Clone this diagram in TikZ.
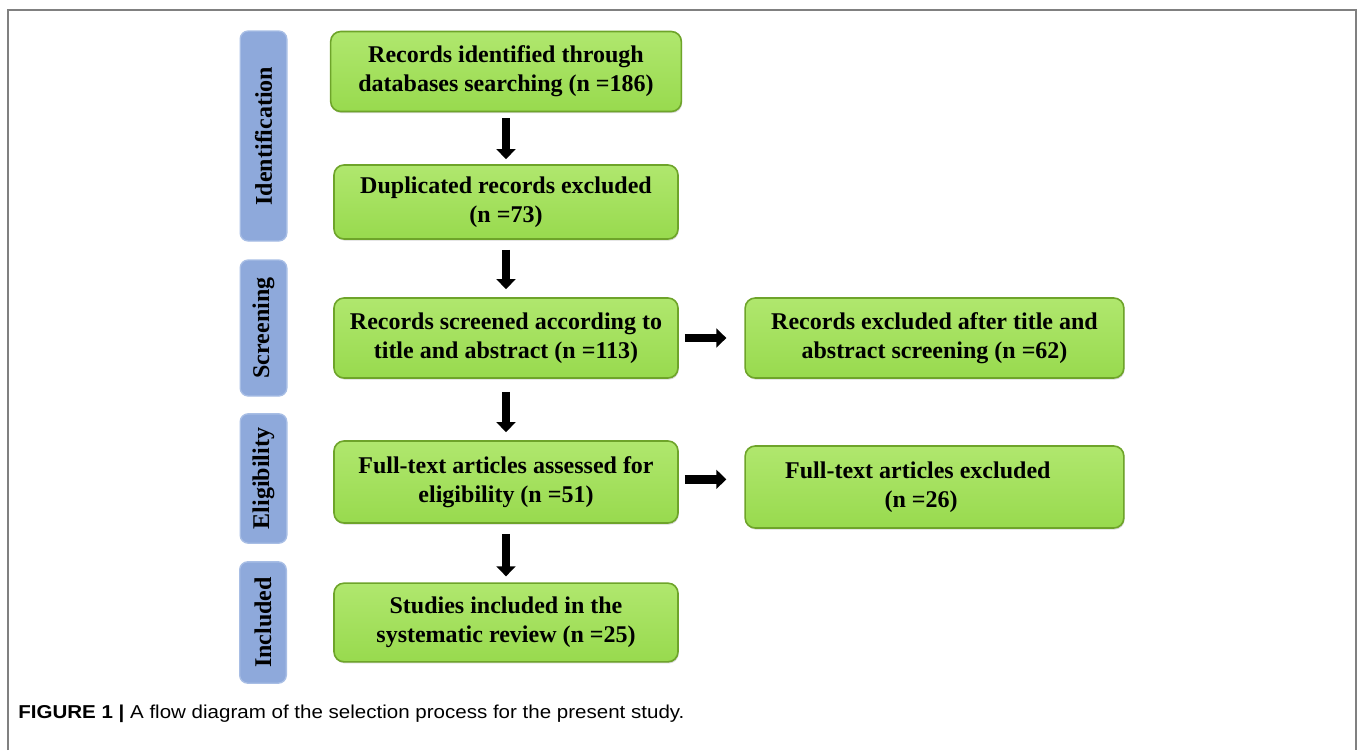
\documentclass[tikz,border=0pt]{standalone}
\usepackage{fontspec}
\setmainfont{Liberation Serif}
\newfontfamily\capfont{Liberation Sans}
\usepackage{tikz}
\usetikzlibrary{arrows.meta,shadows}
\definecolor{boxgreen}{RGB}{152,218,78}
\definecolor{boxgreenlight}{RGB}{176,231,110}
\definecolor{boxrim}{RGB}{110,164,42}
\definecolor{stageblue}{RGB}{142,169,219}
\definecolor{stagerim}{RGB}{168,190,229}
\definecolor{framegray}{RGB}{128,128,128}

\begin{document}
\begin{tikzpicture}[x=0.75pt, y=-0.75pt,
            box/.style={shape=rectangle, rounded corners=7.5pt, draw=boxrim, line width=1.2pt, top color=boxgreenlight, bottom color=boxgreen, align=center, inner sep=2pt, minimum height=60pt, font=\fontsize{18}{22}\selectfont\bfseries, drop shadow={shadow xshift=0.6pt, shadow yshift=-1.2pt, opacity=0.3}},
            stage/.style={shape=rectangle, rounded corners=6pt, draw=stagerim, line width=1pt, fill=stageblue, rotate=90, minimum height=35pt, inner sep=0pt, font=\fontsize{18}{22}\selectfont\bfseries},
            arr/.style={line width=6.5pt, -{Triangle[width=14pt,length=7.5pt]}}]
        \useasboundingbox (0,0) rectangle (1357,750);
        \draw[framegray, line width=1.5pt] (8,750) -- (8,10) -- (1356,10) -- (1356,750);

        \node[stage, minimum width=157.5pt] (ident) at (263.5,136) {Identification};
        \node[stage, minimum width=102pt] (screen) at (263.5,328) {Screening};
        \node[stage, minimum width=97pt] (elig) at (263.5,478.5) {Eligibility};
        \node[stage, minimum width=91pt] (incl) at (263,622.5) {Included};

        \node[box, minimum width=263pt] (records) at (506,71.5) {Records identified through\\databases searching (n =186)};
        \node[box, minimum width=258pt, minimum height=55.5pt] (dupl) at (506,202) {Duplicated records excluded\\(n =73)};
        \node[box, minimum width=258pt] (screened) at (506,338) {Records screened according to\\title and abstract (n =113)};
        \node[box, minimum width=258pt, minimum height=61.5pt] (fulltext) at (506,482) {Full-text articles assessed for\\eligibility (n =51)};
        \node[box, minimum width=258pt, minimum height=59pt] (included) at (506,622.5) {Studies included in the\\systematic review (n =25)};
        \node[box, minimum width=284pt] (screenout) at (934.5,338) {Records excluded after title and\\abstract screening (n =62)};
        \node[box, minimum width=284pt, minimum height=61.5pt] (fullout) at (934.5,487) {Full-text articles excluded\hspace*{25pt}\\(n =26)\hspace*{20pt}};

        \draw[arr, shorten <=4.5pt, shorten >=3.75pt] (records) -- (dupl);
        \draw[arr, shorten <=7.5pt, shorten >=6pt] (dupl) -- (screened);
        \draw[arr, shorten <=9.75pt, shorten >=6pt] (screened) -- (fulltext);
        \draw[arr, shorten <=7.5pt, shorten >=4.5pt] (fulltext) -- (included);
        \draw[arr, shorten <=4.5pt, shorten >=13.5pt] (screened) -- (screenout);
        \draw[arr, shorten <=4.5pt, shorten >=13.5pt] ([yshift=2pt]fulltext.east) -- ([yshift=2pt]fulltext.east -| fullout.west);

        \node[anchor=base west, inner sep=0pt, xscale=1.1, transform shape, font=\capfont\fontsize{14}{17}\selectfont] (caption) at (18,718) {\textbf{FIGURE 1 |} A flow diagram of the selection process for the present study.};
    \end{tikzpicture}
\end{document}
